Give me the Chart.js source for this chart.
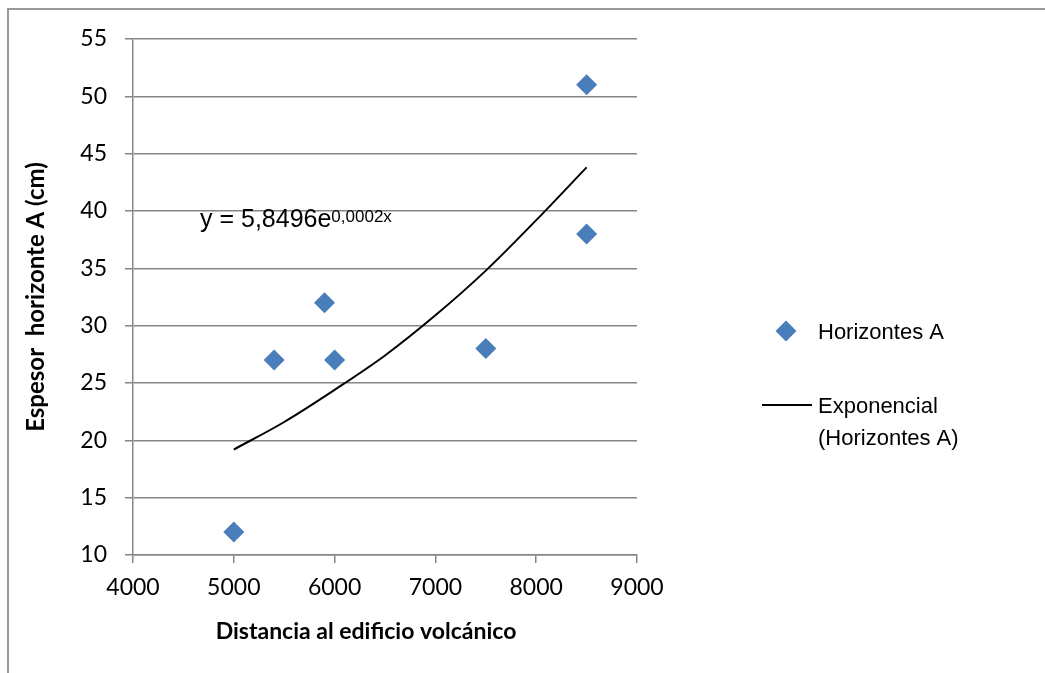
<!DOCTYPE html>
<html>
<head>
<meta charset="utf-8">
<script src="https://cdn.jsdelivr.net/npm/chart.js@4.4.1/dist/chart.umd.min.js"></script>
<style>
  html, body { margin: 0; padding: 0; background: #ffffff; }
  #wrap { position: relative; width: 1045px; height: 673px; }
  canvas { display: block; }
</style>
</head>
<body>
<div id="wrap"><canvas id="c" width="1045" height="673"></canvas></div>
<script>
// ---- data ----
const distancia = [5000, 5400, 5900, 6000, 7500, 8500, 8500];
const espesor   = [12, 27, 32, 27, 28, 51, 38];
// trend line (exponential fit)
const trendX = [5000, 5500, 6000, 6500, 7000, 7500, 8000, 8500];
const trendY = [19.2, 21.6, 24.4, 27.4, 30.9, 34.8, 39.2, 43.8];
const xTicks = [4000, 5000, 6000, 7000, 8000, 9000];
const yTicks = [10, 15, 20, 25, 30, 35, 40, 45, 50, 55];
const seriesName = 'Horizontes A';
const trendName = ['Exponencial', '(Horizontes A)'];
const equationMain = 'y = 5,8496e';
const equationSup = '0,0002x';
const xTitle = 'Distancia al edificio volcánico';
const yTitle = 'Espesor  horizonte A (cm)';

const BLUE = '#4A7EBB';
const GRID = '#868686';
const TICKFONT = { family: 'Lato, "Open Sans", sans-serif', size: 23 };
const LEGFONT = '22px "Liberation Sans", Arial, sans-serif';

const scatterPts = distancia.map((x, i) => ({ x: x, y: espesor[i] }));
const trendPts = trendX.map((x, i) => ({ x: x, y: trendY[i] }));

const decor = {
  id: 'decor',
  beforeDraw(chart) {
    const ctx = chart.ctx;
    ctx.save();
    ctx.strokeStyle = '#9a9a9a';
    ctx.lineWidth = 2;
    ctx.strokeRect(8, 9, 1200, 800);
    ctx.restore();
  },
  afterDraw(chart) {
    const ctx = chart.ctx;
    ctx.save();
    // equation label
    ctx.fillStyle = '#000';
    ctx.textBaseline = 'alphabetic';
    ctx.textAlign = 'left';
    ctx.font = '25px "Liberation Sans", Arial, sans-serif';
    ctx.fillText(equationMain, 200, 227);
    const w = ctx.measureText(equationMain).width;
    ctx.font = '17px "Liberation Sans", Arial, sans-serif';
    ctx.fillText(equationSup, 200 + w, 222);

    // x axis title
    ctx.font = 'bold 23px Lato, "Open Sans", sans-serif';
    ctx.textAlign = 'center';
    ctx.fillText(xTitle, 366, 639);

    // legend
    ctx.textAlign = 'left';
    ctx.font = LEGFONT;
    const cx = 786, cy = 331, r = 10.5;
    ctx.fillStyle = BLUE;
    ctx.beginPath();
    ctx.moveTo(cx - r, cy); ctx.lineTo(cx, cy - r); ctx.lineTo(cx + r, cy); ctx.lineTo(cx, cy + r);
    ctx.closePath();
    ctx.fill();
    ctx.fillStyle = '#000';
    ctx.fillText(seriesName, 818, 339);
    ctx.strokeStyle = '#000';
    ctx.lineWidth = 2;
    ctx.beginPath();
    ctx.moveTo(762, 405); ctx.lineTo(812, 405);
    ctx.stroke();
    ctx.fillText(trendName[0], 818, 413);
    ctx.fillText(trendName[1], 818, 445);
    ctx.restore();
  }
};

new Chart(document.getElementById('c'), {
  type: 'scatter',
  data: {
    datasets: [
      {
        label: seriesName,
        data: scatterPts,
        pointStyle: 'rectRot',
        pointRadius: 10.5,
        pointHoverRadius: 10.5,
        backgroundColor: BLUE,
        borderColor: BLUE,
        borderWidth: 0,
        order: 1
      },
      {
        label: trendName.join(' '),
        type: 'line',
        data: trendPts,
        borderColor: '#000',
        borderWidth: 2,
        pointRadius: 0,
        fill: false,
        showLine: true,
        cubicInterpolationMode: 'monotone',
        order: 2
      }
    ]
  },
  plugins: [decor],
  options: {
    responsive: false,
    animation: false,
    devicePixelRatio: 1,
    layout: { padding: { left: 0, top: 39, right: 408, bottom: 0 } },
    plugins: {
      legend: { display: false },
      tooltip: { enabled: false }
    },
    scales: {
      x: {
        type: 'linear',
        min: 4000, max: 9000,
        afterBuildTicks(scale) { scale.ticks = xTicks.map(v => ({ value: v })); },
        afterFit(scale) { scale.height = 118; },
        grid: { drawOnChartArea: false, drawTicks: true, tickLength: 8, color: GRID, lineWidth: 1.5 },
        border: { display: true, color: GRID, width: 1.5 },
        ticks: { font: TICKFONT, color: '#000', padding: 11, maxRotation: 0, callback: v => String(v) },
        title: { display: false }
      },
      y: {
        type: 'linear',
        min: 10, max: 55,
        afterBuildTicks(scale) { scale.ticks = yTicks.map(v => ({ value: v })); },
        afterFit(scale) { scale.width = 133; },
        grid: { drawOnChartArea: true, drawTicks: true, tickLength: 8, color: GRID, lineWidth: 1.5 },
        border: { display: true, color: GRID, width: 1.5 },
        ticks: { font: TICKFONT, color: '#000', padding: 18, callback: v => String(v) },
        title: {
          display: true,
          text: yTitle,
          color: '#000',
          font: { family: 'Lato, "Open Sans", sans-serif', size: 24, weight: 'bold' },
          padding: { top: 22, bottom: 0 }
        }
      }
    }
  }
});
</script>
</body>
</html>
